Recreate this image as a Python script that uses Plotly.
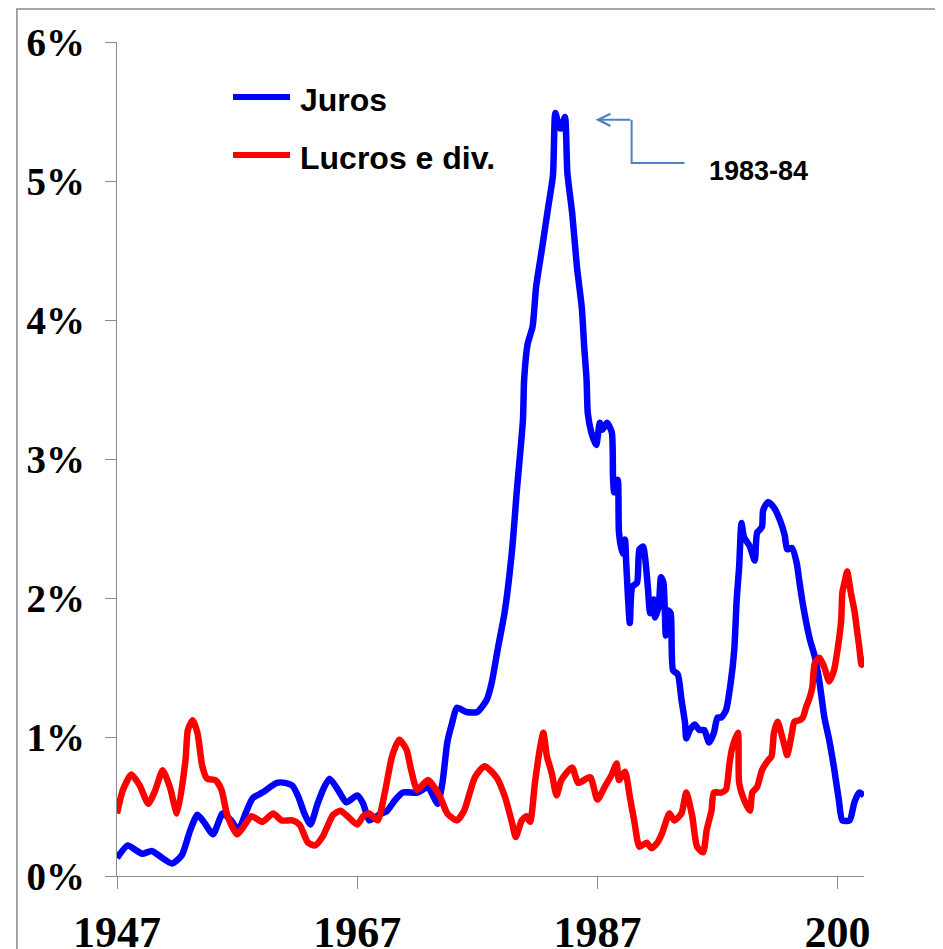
import plotly.graph_objects as go

# ---- data ----
juros_years = [1947.0, 1947.9, 1948.5, 1949.1, 1949.9, 1950.6, 1951.6, 1952.4, 1953.1, 1953.7,
               1954.3, 1955.0, 1955.8, 1956.5, 1957.1, 1957.7, 1958.3, 1959.1, 1960.3, 1961.0,
               1961.6, 1962.1, 1962.6, 1963.1, 1963.7, 1964.2, 1964.7, 1965.4, 1966.1, 1967.0,
               1967.5, 1968.0, 1968.8, 1969.5, 1970.1, 1970.8, 1972.0, 1972.9, 1973.3, 1973.7,
               1974.1, 1974.5, 1974.9, 1975.3, 1976.1, 1977.0, 1977.8, 1978.2, 1978.7, 1979.3,
               1979.9, 1980.3, 1980.8, 1980.9, 1981.2, 1981.6, 1981.9, 1982.4, 1982.9, 1983.3,
               1983.5, 1983.85, 1984.0, 1984.3, 1984.5, 1984.9, 1985.3, 1985.7, 1985.9, 1986.1,
               1986.2, 1986.5, 1986.9, 1987.2, 1987.4, 1987.8, 1988.2, 1988.3, 1988.4, 1988.7,
               1988.8, 1989.1, 1989.3, 1989.4, 1989.7, 1989.9, 1990.3, 1990.5, 1990.8, 1991.0,
               1991.2, 1991.4, 1991.7, 1991.8, 1992.1, 1992.3, 1992.5, 1992.7, 1992.9, 1993.1,
               1993.3, 1993.7, 1994.0, 1994.3, 1994.4, 1994.7, 1995.1, 1995.5, 1995.9, 1996.3,
               1996.7, 1997.0, 1997.3, 1997.7, 1998.1, 1998.4, 1998.6, 1998.8, 1999.0, 1999.2,
               1999.7, 2000.1, 2000.3, 2000.7, 2000.8, 2001.2, 2001.7, 2002.2, 2002.6, 2002.8,
               2003.2, 2003.6, 2003.8, 2004.1, 2004.4, 2004.7, 2005.1, 2005.5, 2005.9, 2006.3,
               2006.7, 2007.1, 2007.4, 2008.0, 2008.4, 2008.8, 2009.2]
juros_values = [0.13, 0.22, 0.19, 0.16, 0.18, 0.14, 0.09, 0.15, 0.33, 0.44,
                0.38, 0.30, 0.45, 0.40, 0.33, 0.45, 0.56, 0.60, 0.67, 0.67,
                0.65, 0.57, 0.45, 0.37, 0.52, 0.63, 0.70, 0.62, 0.53, 0.58,
                0.52, 0.40, 0.44, 0.47, 0.54, 0.60, 0.60, 0.64, 0.58, 0.52,
                0.67, 0.96, 1.10, 1.21, 1.18, 1.18, 1.27, 1.39, 1.63, 1.91,
                2.35, 2.78, 3.28, 3.57, 3.83, 3.95, 4.24, 4.52, 4.81, 5.04,
                5.49, 5.38, 5.38, 5.46, 5.06, 4.77, 4.38, 4.09, 3.81, 3.57,
                3.33, 3.19, 3.10, 3.26, 3.21, 3.26, 3.19, 2.87, 2.76, 2.85,
                2.47, 2.32, 2.42, 2.25, 1.82, 2.08, 2.11, 2.35, 2.37, 2.27,
                2.08, 1.89, 1.99, 1.86, 1.94, 2.15, 2.11, 1.73, 1.91, 1.89,
                1.48, 1.45, 1.27, 1.10, 0.99, 1.05, 1.09, 1.05, 1.05, 0.96,
                1.03, 1.14, 1.14, 1.19, 1.39, 1.63, 1.99, 2.22, 2.54, 2.44,
                2.37, 2.27, 2.47, 2.51, 2.63, 2.69, 2.65, 2.56, 2.45, 2.35,
                2.36, 2.25, 2.13, 1.96, 1.82, 1.70, 1.58, 1.39, 1.14, 0.98,
                0.78, 0.55, 0.40, 0.40, 0.53, 0.60, 0.58]

lucros_years = [1947.0, 1947.5, 1948.2, 1948.9, 1949.6, 1950.2, 1950.8, 1951.4, 1952.0, 1952.7,
                1952.9, 1953.3, 1953.7, 1954.1, 1954.5, 1955.2, 1955.7, 1956.2, 1957.0, 1957.5,
                1958.2, 1959.1, 1960.0, 1960.7, 1961.6, 1962.2, 1962.9, 1963.5, 1964.1, 1965.0,
                1965.6, 1966.2, 1967.0, 1967.5, 1968.0, 1968.7, 1969.3, 1969.9, 1970.5, 1971.1,
                1971.5, 1972.0, 1972.9, 1973.9, 1974.5, 1975.3, 1975.9, 1976.8, 1977.6, 1978.6,
                1979.3, 1979.9, 1980.2, 1980.7, 1981.1, 1981.4, 1981.8, 1982.2, 1982.5, 1982.8,
                1983.2, 1983.6, 1984.0, 1984.9, 1985.4, 1986.4, 1987.0, 1987.6, 1988.2, 1988.6,
                1988.8, 1989.3, 1989.7, 1990.1, 1990.5, 1991.1, 1991.5, 1992.0, 1992.4, 1993.0,
                1993.4, 1994.0, 1994.4, 1994.9, 1995.3, 1995.8, 1996.1, 1996.5, 1996.7, 1997.3,
                1997.7, 1998.0, 1998.2, 1998.7, 1998.8, 1999.2, 1999.7, 1999.9, 2000.3, 2000.7,
                2001.2, 2001.5, 2001.7, 2002.0, 2002.3, 2002.6, 2002.8, 2003.2, 2003.4, 2003.8,
                2004.1, 2004.4, 2004.7, 2004.9, 2005.1, 2005.5, 2005.9, 2006.3, 2006.7, 2007.0,
                2007.3, 2007.4, 2007.6, 2007.8, 2008.1, 2008.4, 2008.6, 2008.8, 2009.0, 2009.2]
lucros_values = [0.45, 0.62, 0.73, 0.65, 0.52, 0.62, 0.76, 0.64, 0.45, 0.83,
                 1.05, 1.12, 1.03, 0.79, 0.70, 0.69, 0.62, 0.43, 0.30, 0.35,
                 0.43, 0.39, 0.45, 0.40, 0.40, 0.37, 0.24, 0.22, 0.28, 0.44,
                 0.47, 0.43, 0.37, 0.43, 0.45, 0.40, 0.60, 0.86, 0.98, 0.91,
                 0.76, 0.62, 0.69, 0.57, 0.45, 0.40, 0.47, 0.71, 0.79, 0.71,
                 0.57, 0.38, 0.28, 0.40, 0.43, 0.39, 0.67, 0.91, 1.03, 0.86,
                 0.74, 0.58, 0.69, 0.78, 0.67, 0.71, 0.55, 0.64, 0.73, 0.81,
                 0.69, 0.75, 0.57, 0.38, 0.21, 0.24, 0.20, 0.24, 0.31, 0.45,
                 0.40, 0.45, 0.60, 0.43, 0.21, 0.17, 0.33, 0.47, 0.60, 0.60,
                 0.62, 0.81, 0.91, 1.03, 0.67, 0.55, 0.47, 0.60, 0.64, 0.76,
                 0.83, 0.86, 1.03, 1.11, 1.03, 0.93, 0.87, 1.03, 1.11, 1.12,
                 1.14, 1.22, 1.29, 1.36, 1.53, 1.57, 1.50, 1.40, 1.48, 1.63,
                 1.84, 2.04, 2.12, 2.19, 2.04, 1.91, 1.78, 1.65, 1.52, 1.58]

series_names = ["Juros", "Lucros e div."]
series_colors = ["#0000FF", "#FF0000"]

x_tickvals = [1947, 1967, 1987, 2007]
x_ticktext = ["1947", "1967", "1987", "200"]
y_tickvals = [0, 1, 2, 3, 4, 5, 6]
y_ticktext = ["0%", "1%", "2%", "3%", "4%", "5%", "6%"]

annot_text = "1983-84"

# ---- figure ----
fig = go.Figure()
for name, xs, ys, col in [(series_names[0], juros_years, juros_values, series_colors[0]),
                          (series_names[1], lucros_years, lucros_values, series_colors[1])]:
    fig.add_trace(go.Scatter(x=xs, y=ys, mode="lines", name=name,
                             line=dict(color=col, width=6.5, shape="spline", smoothing=0.6),
                             showlegend=False))

AX = "#8a8a8a"
serif_bold = dict(family="Liberation Serif, Times New Roman, serif", color="black", weight="bold")
sans = "Liberation Sans, Arial, sans-serif"

# the page body adds an 8px offset; figure size/margins compensate for it
fig.update_layout(
    width=935, height=941,
    margin=dict(l=109, r=79, t=34, b=73, pad=0),
    plot_bgcolor="white", paper_bgcolor="white",
    xaxis=dict(range=[1947, 2009.2], tickvals=x_tickvals, ticktext=x_ticktext,
               showgrid=False, zeroline=False, showline=True, linecolor=AX, linewidth=1.3,
               ticks="outside", ticklen=12, tickcolor=AX, tickwidth=1.3, automargin=False,
               tickfont=dict(size=44, **serif_bold), ticklabelstandoff=5),
    yaxis=dict(range=[0, 6], tickvals=y_tickvals, ticktext=y_ticktext,
               showgrid=False, zeroline=False, showline=True, linecolor=AX, linewidth=1.3,
               ticks="outside", ticklen=11, tickcolor=AX, tickwidth=1.3, automargin=False,
               tickfont=dict(size=39, **serif_bold), ticklabelstandoff=12),
)

# outer frame
fig.add_shape(type="rect", xref="paper", yref="paper",
              x0=-0.134, x1=1.3, y0=-0.3, y1=1.0396,
              line=dict(color=AX, width=1.5), layer="below")

# manual legend
leg_y = [0.934, 0.8645]
for name, col, yy in zip(series_names, series_colors, leg_y):
    fig.add_shape(type="line", xref="paper", yref="paper",
                  x0=0.1553, x1=0.2316, y0=yy, y1=yy,
                  line=dict(color=col, width=6))
    fig.add_annotation(xref="paper", yref="paper", x=0.2423, y=yy - 0.003,
                       text=name, showarrow=False, xanchor="left", yanchor="middle",
                       font=dict(family=sans, size=32, color="black", weight="bold"))

# peak annotation arrow (elbow connector)
ARC = "#4F81BD"
fig.add_shape(type="path", xref="x", yref="y",
              path="M 1994.25 5.13 L 1989.85 5.13 L 1989.85 5.44",
              line=dict(color=ARC, width=2))
fig.add_annotation(x=1986.85, y=5.44, ax=1989.85, ay=5.44, axref="x", ayref="y",
                   xref="x", yref="y", text="", showarrow=True,
                   arrowhead=5, arrowsize=1.2, arrowwidth=2, arrowcolor=ARC)
fig.add_annotation(x=1996.1, y=5.07, xref="x", yref="y", text=annot_text,
                   showarrow=False, xanchor="left", yanchor="middle",
                   font=dict(family=sans, size=27, color="black", weight="bold"))

fig.write_html("out.html")
